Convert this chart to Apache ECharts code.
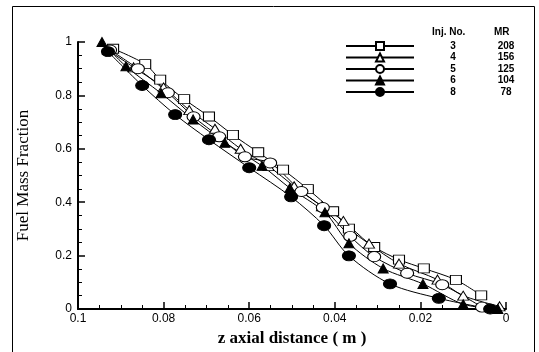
<!DOCTYPE html>
<html>
<head>
<meta charset="utf-8">
<script src="https://cdn.jsdelivr.net/npm/echarts@6/dist/echarts.min.js"></script>
<style>
  html, body { margin: 0; padding: 0; background: #fff; }
  #main { width: 539px; height: 352px; }
</style>
</head>
<body>
<div id="main"></div>
<script>
// z axial distance (m) vs fuel mass fraction, one pair of arrays per injector
var inj3Z = [0.0918, 0.0843, 0.0808, 0.0752, 0.0694, 0.0638, 0.0579, 0.0521, 0.0463, 0.0404, 0.0367, 0.0308, 0.0250, 0.0192, 0.0117, 0.0058];
var inj3F = [0.975, 0.917, 0.859, 0.786, 0.721, 0.652, 0.587, 0.522, 0.449, 0.366, 0.301, 0.232, 0.185, 0.152, 0.109, 0.051];

var inj4Z = [0.0930, 0.0870, 0.0800, 0.0740, 0.0680, 0.0620, 0.0555, 0.0495, 0.0430, 0.0380, 0.0320, 0.0250, 0.0160, 0.0100, 0.0015];
var inj4F = [0.970, 0.905, 0.830, 0.745, 0.675, 0.600, 0.535, 0.460, 0.385, 0.330, 0.245, 0.170, 0.110, 0.050, 0.010];

var inj5Z = [0.0925, 0.0860, 0.0790, 0.0730, 0.0670, 0.0610, 0.0551, 0.0478, 0.0428, 0.0364, 0.0308, 0.0231, 0.0149, 0.0056];
var inj5F = [0.970, 0.900, 0.810, 0.720, 0.645, 0.570, 0.547, 0.440, 0.380, 0.272, 0.196, 0.134, 0.091, 0.007];

var inj6Z = [0.0944, 0.0888, 0.0806, 0.0731, 0.0657, 0.0570, 0.0505, 0.0423, 0.0367, 0.0287, 0.0194, 0.0100, 0.0019];
var inj6F = [1.000, 0.909, 0.808, 0.710, 0.623, 0.536, 0.453, 0.362, 0.246, 0.152, 0.094, 0.018, 0.000];

var inj8Z = [0.0930, 0.0850, 0.0773, 0.0694, 0.0600, 0.0502, 0.0425, 0.0367, 0.0271, 0.0157, 0.0037];
var inj8F = [0.964, 0.837, 0.728, 0.634, 0.529, 0.420, 0.312, 0.199, 0.094, 0.040, 0.000];

var injNos = ['3', '4', '5', '6', '8'];
var mrVals = ['208', '156', '125', '104', '78'];

function pairs(zs, fs) {
  return zs.map(function (z, i) { return [z, fs[i]]; });
}

function mkSeries(name, zs, fs, symbol, size, fill) {
  return {
    name: name,
    type: 'line',
    data: pairs(zs, fs),
    smooth: 0.3,
    symbol: symbol,
    symbolSize: size,
    showAllSymbol: true,
    lineStyle: { color: '#000', width: 1 },
    itemStyle: { color: fill, borderColor: '#000', borderWidth: 1 },
    z: 3
  };
}

var chart = echarts.init(document.getElementById('main'));

var option = {
  backgroundColor: '#fff',
  animation: false,
  grid: { left: 78, right: 33, top: 42, bottom: 34 },
  xAxis: {
    type: 'value',
    inverse: true,
    min: 0,
    max: 0.1,
    interval: 0.02,
    name: 'z axial distance ( m )',
    nameLocation: 'middle',
    nameGap: 21,
    nameTextStyle: { fontFamily: 'Liberation Serif', fontWeight: 'bold', fontSize: 17, color: '#000' },
    axisLine: { onZero: false, lineStyle: { color: '#000', width: 2 } },
    axisTick: { inside: true, length: 7, lineStyle: { color: '#000', width: 1.5 } },
    minorTick: { show: true, splitNumber: 4, length: 4, lineStyle: { color: '#000' } },
    axisLabel: { fontFamily: 'Liberation Sans', fontSize: 12, color: '#000', margin: 4 },
    splitLine: { show: false }
  },
  yAxis: {
    type: 'value',
    min: 0,
    max: 1,
    interval: 0.2,
    name: 'Fuel Mass Fraction',
    nameLocation: 'middle',
    nameGap: 46,
    nameRotate: 90,
    nameTextStyle: { fontFamily: 'Liberation Serif', fontSize: 17, color: '#000' },
    axisLine: { show: true, onZero: false, lineStyle: { color: '#000', width: 2 } },
    axisTick: { show: true, inside: true, length: 7, lineStyle: { color: '#000', width: 1.5 } },
    minorTick: { show: true, splitNumber: 4, length: 4, lineStyle: { color: '#000' } },
    axisLabel: { fontFamily: 'Liberation Sans', fontSize: 12, color: '#000', margin: 6 },
    splitLine: { show: false }
  },
  legend: {
    orient: 'vertical',
    left: 345,
    top: 41,
    itemWidth: 68,
    itemHeight: 10,
    itemGap: 1.5,
    padding: 0,
    data: injNos,
    formatter: function (name) {
      return '{a|' + name + '}{b|' + mrVals[injNos.indexOf(name)] + '}';
    },
    textStyle: {
      color: '#000',
      rich: {
        a: { width: 68, align: 'center', fontFamily: 'Liberation Sans', fontWeight: 'bold', fontSize: 10, color: '#000' },
        b: { width: 38, align: 'center', fontFamily: 'Liberation Sans', fontWeight: 'bold', fontSize: 10, color: '#000' }
      }
    }
  },
  graphic: [
    { type: 'text', left: 432, top: 27, style: { text: 'Inj. No.', fontFamily: 'Liberation Sans', fontWeight: 'bold', fontSize: 10, fill: '#000' } },
    { type: 'text', left: 494, top: 27, style: { text: 'MR', fontFamily: 'Liberation Sans', fontWeight: 'bold', fontSize: 10, fill: '#000' } },
    { type: 'polyline', shape: { points: [[12.5, 352], [12.5, 6.5], [534.5, 6.5], [534.5, 352]] }, style: { stroke: '#000', fill: null, lineWidth: 1 } }
  ],
  series: [
    mkSeries('3', inj3Z, inj3F, 'rect', [11, 9], '#fff'),
    mkSeries('4', inj4Z, inj4F, 'triangle', [11, 9], '#fff'),
    mkSeries('5', inj5Z, inj5F, 'circle', [13, 10], '#fff'),
    mkSeries('6', inj6Z, inj6F, 'triangle', [10, 9], '#000'),
    mkSeries('8', inj8Z, inj8F, 'circle', [13, 10], '#000')
  ]
};

chart.setOption(option);
</script>
</body>
</html>
